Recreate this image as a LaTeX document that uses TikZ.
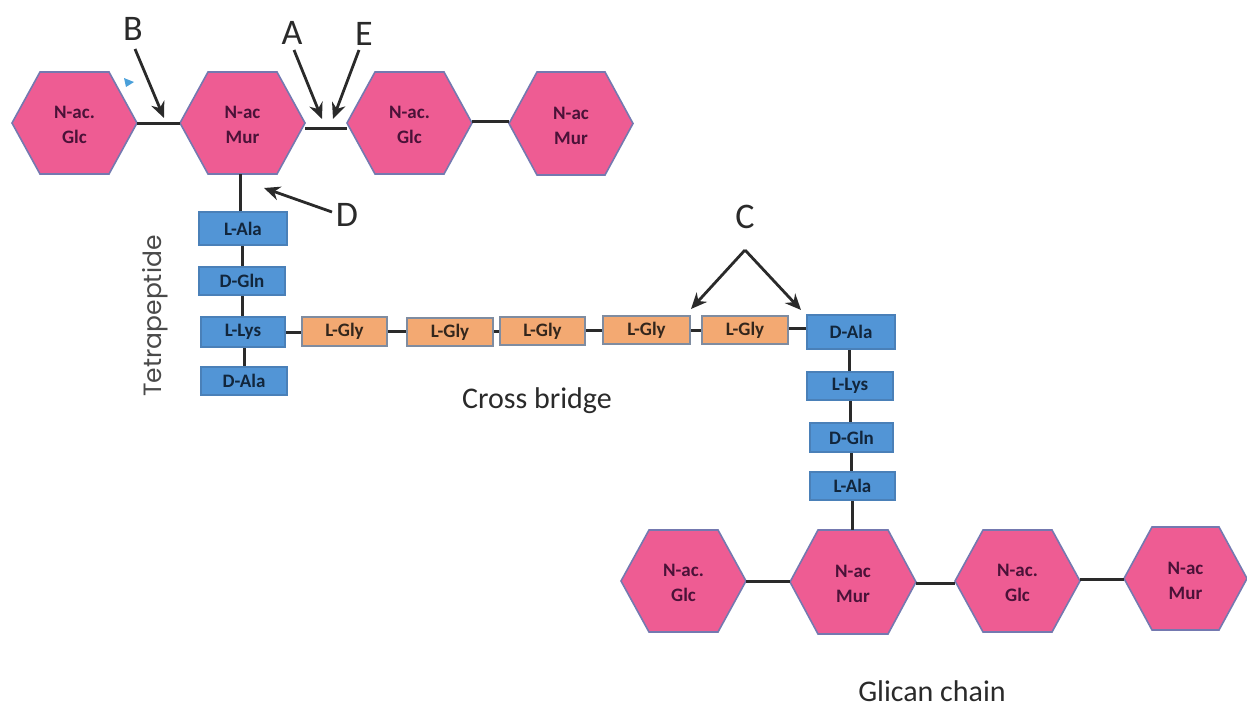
\documentclass[tikz,border=0pt]{standalone}
\usepackage{fontspec}
\setmainfont{Carlito}
\newfontfamily\geofont{Poppins}
\usetikzlibrary{backgrounds,arrows.meta}
\definecolor{hexfill}{HTML}{EE5C93}
\definecolor{hexedge}{HTML}{7479B0}
\definecolor{hextext}{HTML}{4A1238}
\definecolor{bluefill}{HTML}{5295D6}
\definecolor{blueedge}{HTML}{4A80B8}
\definecolor{bluetext}{HTML}{12263C}
\definecolor{orangefill}{HTML}{F3A972}
\definecolor{orangeedge}{HTML}{7F8CA0}
\definecolor{orangetext}{HTML}{33261C}
\definecolor{linecol}{HTML}{2A2A2A}
\tikzset{
  hexanchor/.style={inner sep=0pt,outer sep=0pt},
  hexlabel/.style={inner sep=0pt,outer sep=0pt,align=center,text=hextext,font=\fontsize{19}{25}\selectfont\bfseries},
  bluebox/.style={rectangle,draw=blueedge,fill=bluefill,line width=1.2pt,inner sep=0pt,text=bluetext,font=\fontsize{19}{20}\selectfont\bfseries},
  glybox/.style={rectangle,draw=orangeedge,fill=orangefill,line width=1.5pt,inner sep=0pt,text=orangetext,font=\fontsize{19}{20}\selectfont\bfseries},
  link/.style={draw=linecol,line width=3pt},
  pointer/.style={draw=linecol,line width=2.8pt,-{Stealth[length=16pt,width=14pt]}},
  biglabel/.style={inner sep=0pt,text=linecol,font=\fontsize{36}{40}\selectfont},
  caption/.style={inner sep=0pt,text=linecol,font=\fontsize{30}{33}\selectfont},
}
% name, left, right, top, bottom, line 1, line 2
\newcommand{\hexnode}[7]{%
  \node[hexanchor,minimum width={(#3-#2)*1pt},minimum height={(#5-#4)*1pt}] (#1) at ({(#2+#3)/2},{(#4+#5)/2}) {};
  \node[hexlabel] (#1text) at ([yshift=-2pt]#1.center) {#6\\#7};
  \begin{scope}[on background layer]
  \fill[hexfill,draw=hexedge,line width=1.6pt,line join=miter]
    (#1.west) -- ([xshift=28pt]#1.north west) -- ([xshift=-28pt]#1.north east) -- (#1.east)
    -- ([xshift=-28pt]#1.south east) -- ([xshift=28pt]#1.south west) -- cycle;
  \end{scope}}
% style, name, left, right, top, bottom, text
\newcommand{\boxnode}[7]{%
  \node[#1,minimum width={(#4-#3)*1pt},minimum height={(#6-#5)*1pt}] (#2) at ({(#3+#4)/2},{(#5+#6)/2}) {#7};}
% straight horizontal link from a node's east side to the next node's west side
\newcommand{\hlink}[3]{\draw[link] ([yshift=#3]#1.east) -- ([yshift=#3]#1.east -| #2.west);}
% straight vertical link from a node's south side to the next node's north side
\newcommand{\vlink}[3]{\draw[link] ([xshift=#3]#1.south) -- ([xshift=#3]#1.south |- #2.north);}
\begin{document}
\begin{tikzpicture}[x=1pt,y=-1pt]
\useasboundingbox (0,0) rectangle (1247,707);
% top chain
\hexnode{ta}{12}{137}{72}{174}{N-ac.}{Glc}
\hexnode{tb}{180}{305}{72}{174}{N-ac}{Mur}
\hexnode{tc}{347}{472}{72}{174}{N-ac.}{Glc}
\hexnode{td}{509}{633}{72}{175}{N-ac}{Mur}
% bottom chain
\hexnode{ba}{621}{746}{530}{632}{N-ac.}{Glc}
\hexnode{bb}{790}{916}{530}{634}{N-ac}{Mur}
\hexnode{bc}{955}{1080}{530}{632}{N-ac.}{Glc}
\hexnode{bd}{1124}{1247}{527}{630}{N-ac}{Mur}
% left peptide
\boxnode{bluebox}{la}{199}{287}{212}{245}{L-Ala}
\boxnode{bluebox}{lb}{199}{285}{267}{295}{D-Gln}
\boxnode{bluebox}{lc}{201}{285}{317}{347}{L-Lys}
\boxnode{bluebox}{ld}{201}{287}{367}{395}{D-Ala}
% cross bridge
\boxnode{glybox}{ga}{302}{387}{317}{346}{L-Gly}
\boxnode{glybox}{gb}{407}{493}{318}{346}{L-Gly}
\boxnode{glybox}{gc}{500}{585}{317}{345}{L-Gly}
\boxnode{glybox}{gd}{603}{690}{316}{344}{L-Gly}
\boxnode{glybox}{ge}{702}{788}{316}{344}{L-Gly}
% right peptide
\boxnode{bluebox}{ra}{807}{895}{315}{349}{D-Ala}
\boxnode{bluebox}{rb}{807}{893}{372}{400}{L-Lys}
\boxnode{bluebox}{rc}{810}{893}{423}{452}{D-Gln}
\boxnode{bluebox}{rd}{810}{895}{472}{500}{L-Ala}
% connectors
\begin{scope}[on background layer]
\hlink{ta}{tb}{0pt}
\hlink{tb}{tc}{-5pt}
\hlink{tc}{td}{2pt}
\vlink{tb}{la}{-2pt}
\vlink{la}{lb}{-1pt}
\vlink{lb}{lc}{0pt}
\vlink{lc}{ld}{1pt}
\hlink{lc}{ga}{0pt}
\hlink{ga}{gb}{0pt}
\hlink{gb}{gc}{1pt}
\hlink{gc}{gd}{1pt}
\hlink{gd}{ge}{0pt}
\hlink{ge}{ra}{2pt}
\vlink{ra}{rb}{-2pt}
\vlink{rb}{rc}{0pt}
\vlink{rc}{rd}{0pt}
\vlink{rd}{bb}{0pt}
\hlink{ba}{bb}{0pt}
\hlink{bb}{bc}{-1pt}
\hlink{bc}{bd}{2pt}
\end{scope}
% labels
\node[biglabel] (lblB) at (133,29) {B};
\node[biglabel] (lblA) at (292,33) {A};
\node[biglabel] (lblE) at (364,34) {E};
\node[biglabel] (lblD) at (347,215) {D};
\node[biglabel] (lblC) at (745,217) {C};
\coordinate (tipB) at (164,118);
\coordinate (tipA) at (322,119);
\coordinate (tipE) at (333,119);
\coordinate (tipD) at (264,188);
\coordinate (tipCa) at (691,309);
\coordinate (tipCb) at (801,310);
\coordinate (apex) at (745,250);
\draw[pointer] (135,49) -- (tipB);
\draw[pointer] (294,50) -- (tipA);
\draw[pointer] (359,50) -- (tipE);
\draw[pointer] (332,212) -- (tipD);
\draw[pointer] (apex) -- (tipCa);
\draw[pointer] (apex) -- (tipCb);
\node[caption] (cross) at (537,401) {Cross bridge};
\node[caption] (glican) at (932,691) {Glican chain};
\node[inner sep=0pt,rotate=90,text=linecol!85,font=\geofont\fontsize{25}{28}\selectfont] (tetra) at (155,316) {Tetrapeptide};
\fill[bluefill!90!cyan] (124,78) -- (134,82) -- (126,87) -- cycle;
\end{tikzpicture}
\end{document}
